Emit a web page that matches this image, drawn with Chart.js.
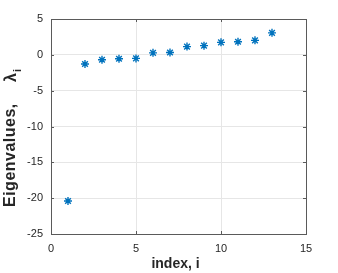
<!DOCTYPE html>
<html>
<head>
<meta charset="utf-8">
<script src="https://cdn.jsdelivr.net/npm/chart.js@4"></script>
<style>
    body { margin: 0; background: #fff; }
    #wrap { width: 338px; height: 273px; }
</style>
</head>
<body>
<div id="wrap"><canvas id="eigChart" width="338" height="273"></canvas></div>
<script>
// values
const indices = [1, 2, 3, 4, 5, 6, 7, 8, 9, 10, 11, 12, 13];
const eigenvalues = [-20.4, -1.28, -0.69, -0.55, -0.5, 0.28, 0.32, 1.15, 1.28, 1.74, 1.83, 2.02, 3.07];
const xTicks = [0, 5, 10, 15];
const yTicks = [-25, -20, -15, -10, -5, 0, 5];
const xTitle = 'index, i';
const yTitle = 'Eigenvalues,';
const yTitleSymbol = 'λ';
const yTitleSub = 'i';

const axisColor = '#5a5a5a';
const gridColor = '#e6e6e6';
const markerColor = '#0072BD';
const tickFont = { family: 'Liberation Sans, Arial, sans-serif', size: 11 };

// box around the axes, inward tick marks and the axis titles
const matlabAxes = {
    id: 'matlabAxes',
    afterDraw(chart) {
        const { ctx, chartArea: a, scales } = chart;
        ctx.save();
        ctx.strokeStyle = axisColor;
        ctx.lineWidth = 1;
        ctx.strokeRect(Math.round(a.left) + 0.5, Math.round(a.top) + 0.5,
            Math.round(a.right - a.left), Math.round(a.bottom - a.top));
        ctx.beginPath();
        xTicks.forEach((v) => {
            const x = Math.round(scales.x.getPixelForValue(v)) + 0.5;
            ctx.moveTo(x, a.bottom); ctx.lineTo(x, a.bottom - 3);
            ctx.moveTo(x, a.top); ctx.lineTo(x, a.top + 3);
        });
        yTicks.forEach((v) => {
            const y = Math.round(scales.y.getPixelForValue(v)) + 0.5;
            ctx.moveTo(a.left, y); ctx.lineTo(a.left + 3, y);
            ctx.moveTo(a.right, y); ctx.lineTo(a.right - 3, y);
        });
        ctx.stroke();

        ctx.fillStyle = '#262626';
        ctx.font = 'bold 14px Liberation Sans, Arial, sans-serif';
        ctx.textAlign = 'center';
        ctx.textBaseline = 'alphabetic';
        ctx.fillText(xTitle, (a.left + a.right) / 2 - 3, 268);

        ctx.translate(14.5, 207);
        ctx.rotate(-Math.PI / 2);
        ctx.textAlign = 'left';
        ctx.font = 'bold 16px Liberation Sans, Arial, sans-serif';
        ctx.letterSpacing = '0.5px';
        ctx.fillText(yTitle, 0, 0);
        ctx.letterSpacing = '0px';
        ctx.fillText(yTitleSymbol, 125, 1);
        const lw = ctx.measureText(yTitleSymbol).width;
        ctx.font = 'bold 11px Liberation Sans, Arial, sans-serif';
        ctx.fillText(yTitleSub, 125 + lw + 1, 6);
        ctx.restore();
    },
};

new Chart(document.getElementById('eigChart').getContext('2d'), {
    type: 'scatter',
    data: {
        datasets: [{
            data: indices.map((x, i) => ({ x, y: eigenvalues[i] })),
            pointStyle: 'star',
            radius: 4,
            borderWidth: 1.4,
            borderColor: markerColor,
            backgroundColor: markerColor,
        }],
    },
    options: {
        responsive: false,
        animation: false,
        layout: { padding: { top: 19, right: 32, left: 0, bottom: 0 } },
        plugins: { legend: { display: false }, tooltip: { enabled: false } },
        scales: {
            x: {
                type: 'linear',
                min: 0,
                max: 15,
                afterFit: (s) => { s.height = 39; },
                afterBuildTicks: (s) => { s.ticks = xTicks.map((value) => ({ value })); },
                grid: { color: gridColor, drawTicks: false },
                border: { display: false },
                ticks: { color: '#262626', font: tickFont, padding: 8, maxRotation: 0 },
            },
            y: {
                min: -25,
                max: 5,
                afterFit: (s) => { s.width = 51; },
                afterBuildTicks: (s) => { s.ticks = yTicks.map((value) => ({ value })); },
                grid: { color: gridColor, drawTicks: false },
                border: { display: false },
                ticks: { color: '#262626', font: tickFont, padding: 8 },
            },
        },
    },
    plugins: [matlabAxes],
});
</script>
</body>
</html>
